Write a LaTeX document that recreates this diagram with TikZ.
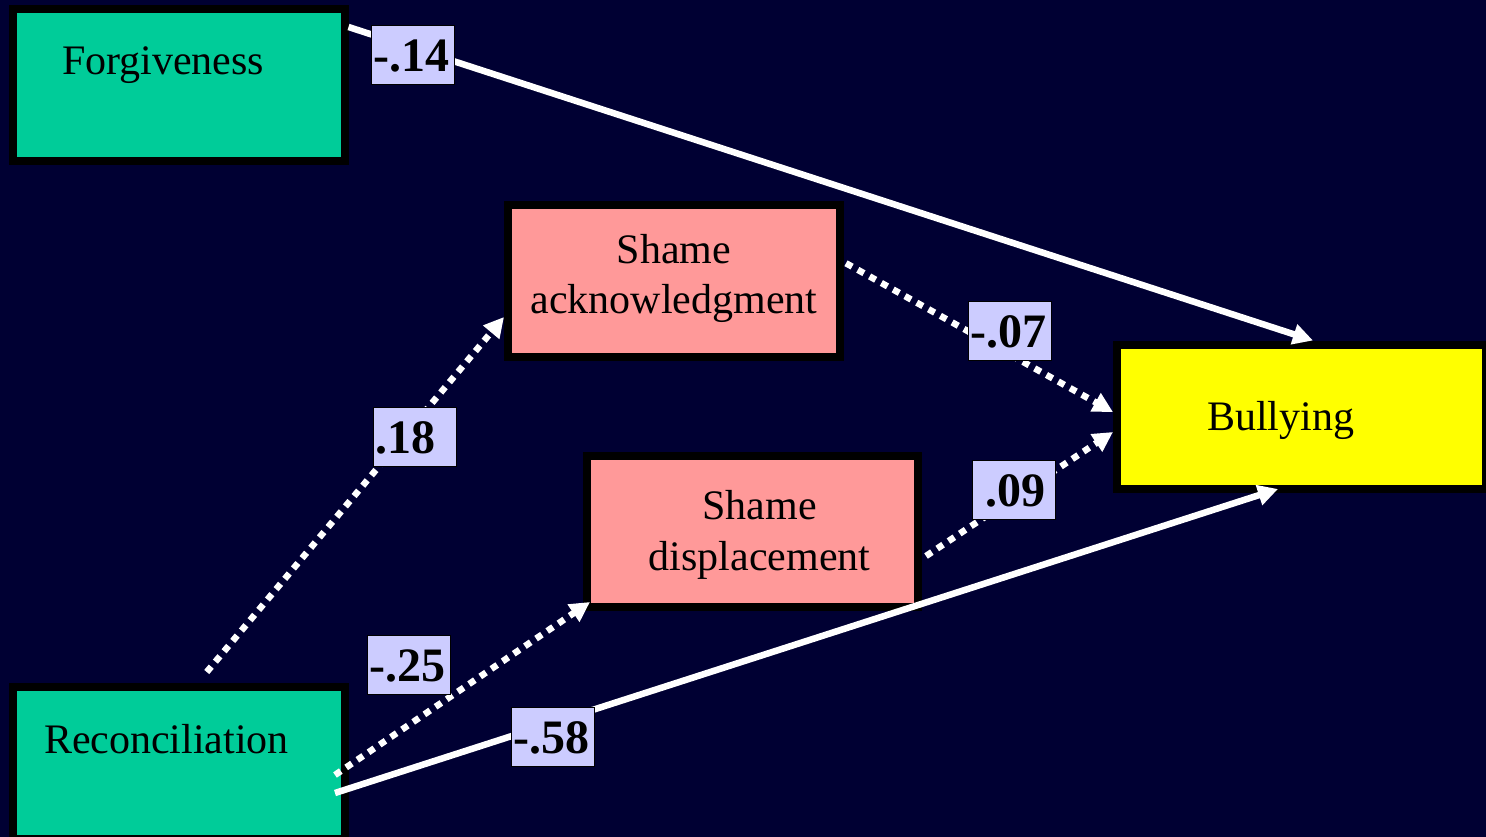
\documentclass[tikz,border=0pt]{standalone}
\usepackage{fontspec}
\setmainfont{Liberation Serif}
\usetikzlibrary{arrows.meta,calc}
\definecolor{bgnavy}{HTML}{000033}
\definecolor{boxgreen}{HTML}{00CC99}
\definecolor{boxpink}{HTML}{FF9999}
\definecolor{boxyellow}{HTML}{FFFF00}
\definecolor{lblfill}{HTML}{CCCCFF}
\begin{document}
\begin{tikzpicture}[x=1pt,y=-1pt,
  boxnode/.style={draw=black, line width=8pt, inner sep=0pt, text=black,
    font=\fontsize{42}{51}\selectfont},
  lbl/.style={solid, draw=black, line width=1pt, fill=lblfill, text=black,
    inner xsep=2pt, inner ysep=0pt, text width=79pt, align=left,
    text height=46pt, text depth=13pt,
    font=\fontsize{48}{58}\selectfont\bfseries},
  solidarrow/.style={draw=white, line width=6.5pt,
    -{Triangle[length=20pt,width=20pt]}},
  dotarrow/.style={solidarrow, dash pattern=on 7pt off 6.5pt}]
\useasboundingbox (0,0) rectangle (1486,837);
\clip (0,0) rectangle (1486,837);
\fill[bgnavy] (0,0) rectangle (1486,837);

\node[boxnode, fill=boxgreen, text width=331.5pt, text height=66pt, text depth=86pt, align=left]
  (forg) at (178.75,85) {\hspace*{49pt}Forgiveness};
\node[boxnode, fill=boxgreen, text width=331.5pt, text height=66pt, text depth=86pt, align=left]
  (reco) at (178.75,763) {\hspace*{31pt}Reconciliation};
\node[boxnode, fill=boxpink, text width=332pt, text height=57.5pt, text depth=94pt, align=center]
  (sack) at (674,281.25) {Shame\\acknowledgment};
\node[boxnode, fill=boxpink, text width=331pt, text height=63.5pt, text depth=87.5pt, align=center]
  (sdis) at (752.5,531) {\hspace*{14pt}Shame\\\hspace*{14pt}displacement};
\node[boxnode, fill=boxyellow, text width=369pt, text height=85.5pt, text depth=58.5pt, align=left]
  (bull) at (1301.5,416.5) {\hspace*{90pt}Bullying};

\draw[solidarrow] ([yshift=-22pt]forg.north east) --
  node[lbl, pos=0.067, yshift=-6.5pt] (l14) {-.14}
  ([xshift=200pt]bull.north west);
\draw[solidarrow] ([xshift=-13.5pt,yshift=-30pt]reco.east) --
  node[lbl, pos=0.231, yshift=-14pt] (l58) {-.58}
  ([xshift=165pt,yshift=3.5pt]bull.south west);
\draw[dotarrow] ([xshift=28pt,yshift=11pt]reco.north) --
  node[lbl, pos=0.662, xshift=11pt] (l18) {.18}
  ([yshift=44pt]sack.south west);
\draw[dotarrow] ([xshift=-13.5pt,yshift=-12pt]reco.east) --
  node[lbl, pos=0.29, yshift=60pt] (l25) {-.25}
  ([xshift=7pt,yshift=8.5pt]sdis.south west);
\draw[dotarrow] ([xshift=2pt,yshift=18pt]sack.east) --
  node[lbl, pos=0.614, yshift=23.5pt] (l07) {-.07}
  ([yshift=4.5pt]bull.west);
\draw[dotarrow] ([xshift=4pt,yshift=-25pt]sdis.east) --
  node[lbl, pos=0.468, yshift=7.5pt] (l09) {\hspace*{11pt}.09}
  ([yshift=-15.5pt]bull.west);
\end{tikzpicture}
\end{document}
